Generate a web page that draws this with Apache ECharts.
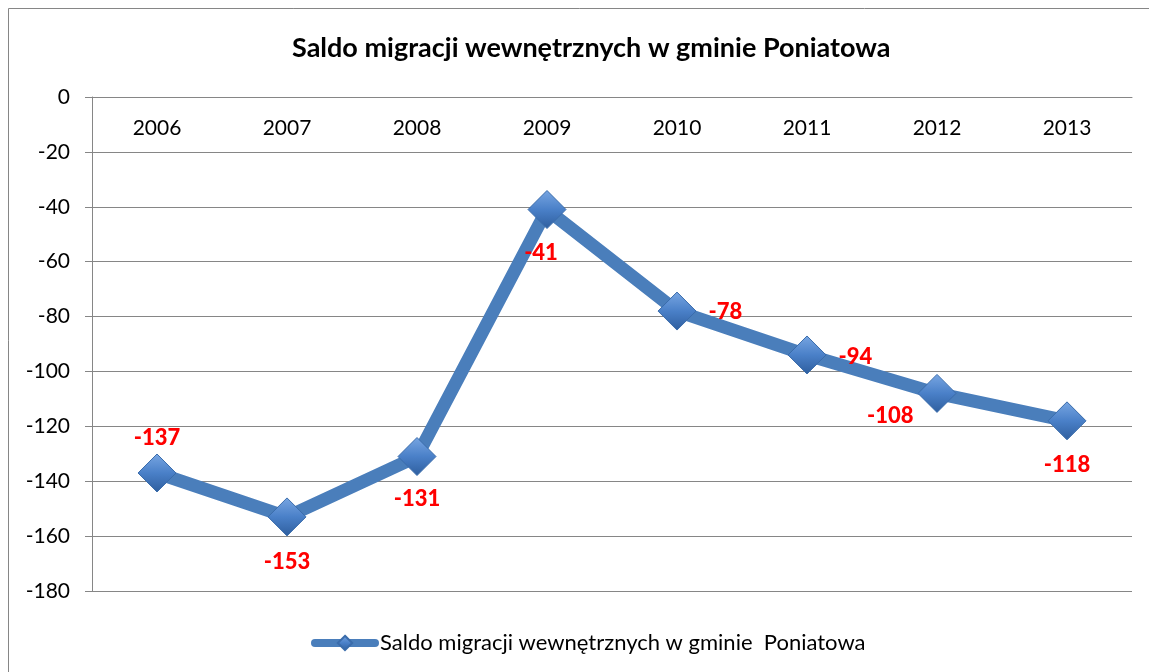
<!DOCTYPE html>
<html>
<head>
<meta charset="utf-8">
<script src="https://cdn.jsdelivr.net/npm/echarts@6/dist/echarts.min.js"></script>
<style>
  html, body { margin: 0; padding: 0; background: #fff; }
  #chart { width: 1149px; height: 672px; }
</style>
</head>
<body>
<div id="chart"></div>
<script>
// dane z wykresu
var titleText = 'Saldo migracji wewnętrznych w gminie Poniatowa';
var seriesName = 'Saldo migracji wewnętrznych w gminie  Poniatowa';
var years = ['2006', '2007', '2008', '2009', '2010', '2011', '2012', '2013'];
var saldo = [-137, -153, -131, -41, -78, -94, -108, -118];

var chart = echarts.init(document.getElementById('chart'));

// gdzie stoi etykieta przy kazdym punkcie
var labelPos = ['top', 'bottom', 'bottom', 'bottom', 'right', 'right', 'left', 'bottom'];
var labelOff = [[0, 3], [0, 7], [0, 4], [-6, 5], [4, 1], [4, 2], [4, 23], [0, 6]];

var points = saldo.map(function (v, i) {
  return { value: v, label: { position: labelPos[i], offset: labelOff[i] } };
});

var font = 'Lato, "Open Sans", sans-serif';

chart.setOption({
  animation: false,
  textStyle: { fontFamily: font },
  title: {
    text: titleText,
    left: 287,
    top: 30,
    textStyle: { fontFamily: font, fontWeight: 'bold', fontSize: 27, color: '#000' }
  },
  graphic: [{
    type: 'rect',
    shape: { x: 8.5, y: 8.5, width: 1200, height: 700 },
    style: { fill: 'none', stroke: '#868686', lineWidth: 1 },
    silent: true
  }],
  legend: {
    bottom: 13,
    left: 306,
    itemWidth: 60,
    itemHeight: 18,
    itemGap: 2,
    lineStyle: { width: 8 },
    textStyle: { fontFamily: font, fontSize: 22, color: '#000' },
    data: [seriesName]
  },
  grid: { left: 92, top: 97, width: 1040, height: 494, containLabel: false },
  xAxis: {
    type: 'category',
    position: 'top',
    data: years,
    axisLine: { lineStyle: { color: '#868686', width: 1 } },
    axisTick: { inside: true, length: 7, lineStyle: { color: '#868686' } },
    axisLabel: { inside: true, margin: 21, fontSize: 21, color: '#000', fontFamily: font, verticalAlign: 'top' }
  },
  yAxis: {
    type: 'value',
    min: -180,
    max: 0,
    interval: 20,
    axisLine: { show: true, lineStyle: { color: '#868686', width: 1 } },
    axisTick: { show: true, length: 7, lineStyle: { color: '#868686' } },
    axisLabel: { fontSize: 21, color: '#000', margin: 22, fontFamily: font },
    splitLine: { lineStyle: { color: '#868686', width: 1 } }
  },
  series: [{
    name: seriesName,
    type: 'line',
    data: points,
    symbol: 'diamond',
    symbolSize: 38,
    lineStyle: { color: '#4A7EBB', width: 13, cap: 'round', join: 'round' },
    itemStyle: {
      color: new echarts.graphic.LinearGradient(0, 0, 0, 1, [
        { offset: 0, color: '#78A6E2' },
        { offset: 0.5, color: '#4A80C8' },
        { offset: 1, color: '#2E5E9E' }
      ]),
      borderColor: '#3A6CAB',
      borderWidth: 1
    },
    label: {
      show: true,
      color: '#FF0000',
      fontWeight: 900,
      fontSize: 22,
      fontFamily: font,
      distance: 8
    }
  }]
});
</script>
</body>
</html>
